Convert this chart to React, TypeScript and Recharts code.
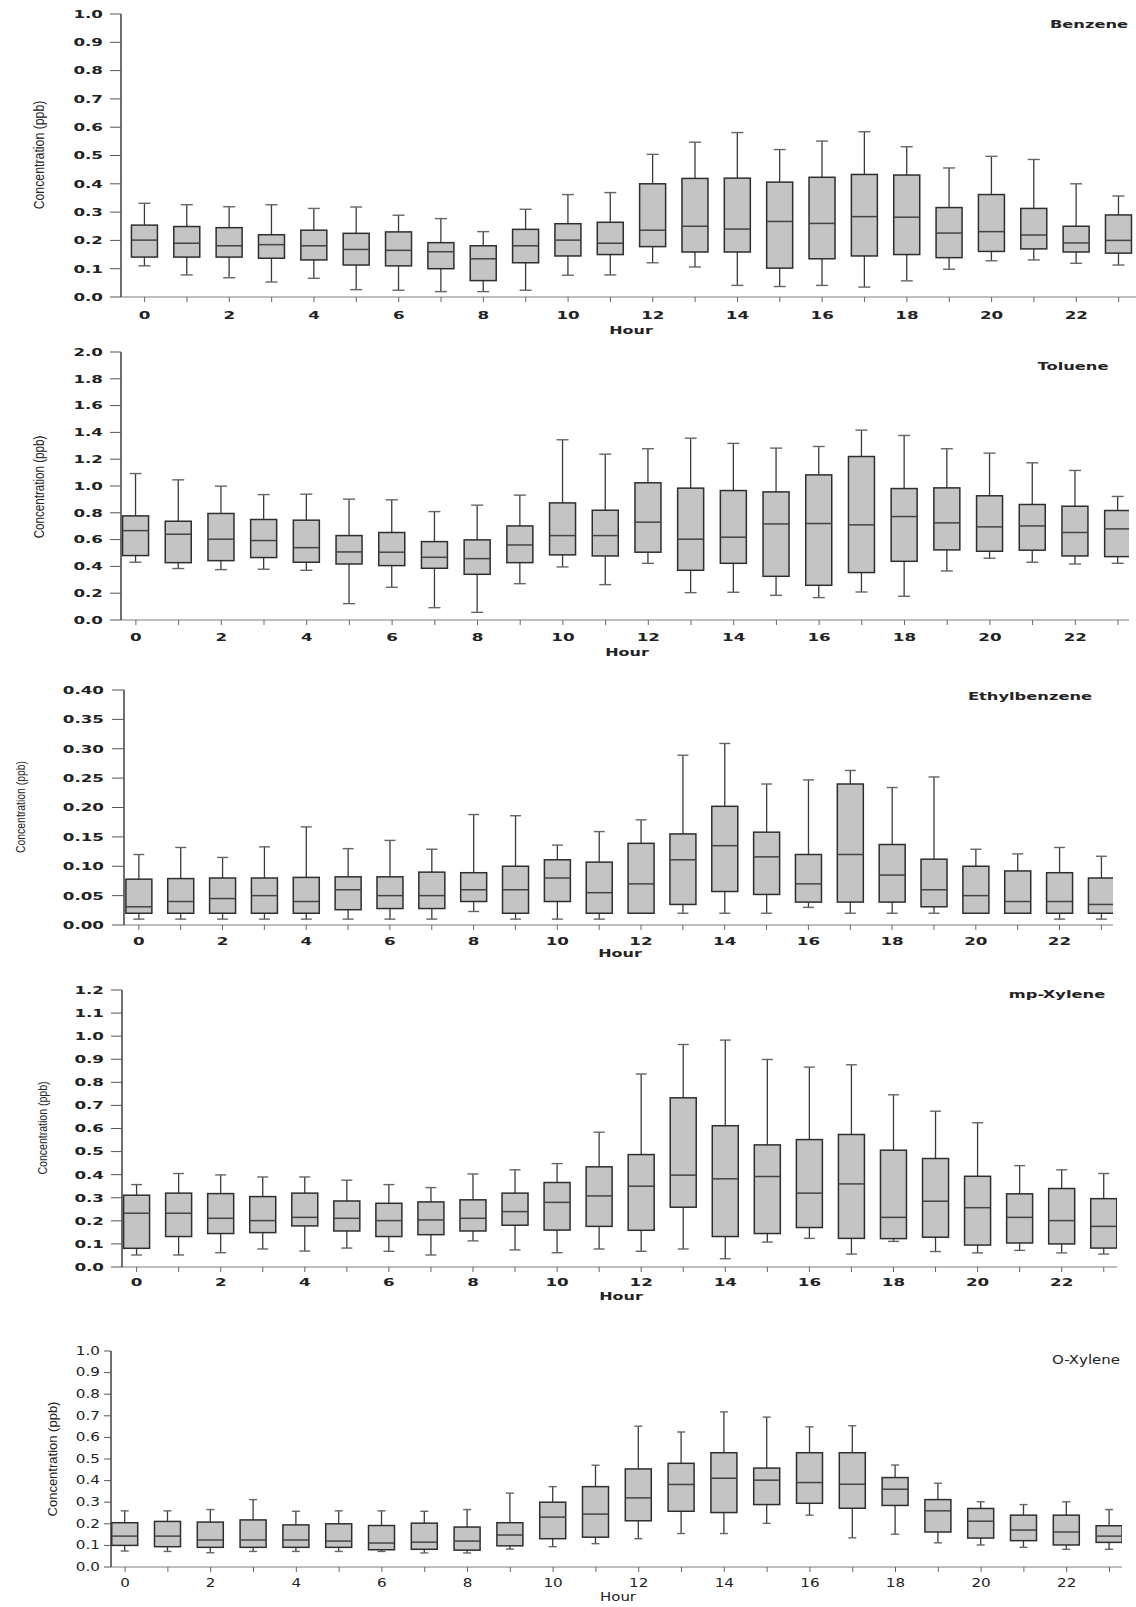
import { ComposedChart, Bar, XAxis, YAxis } from 'recharts'

// hours of the day (x categories)
const HOURS = [0, 1, 2, 3, 4, 5, 6, 7, 8, 9, 10, 11, 12, 13, 14, 15, 16, 17, 18, 19, 20, 21, 22, 23]

// Benzene
const BENZENE_HI = [0.331, 0.326, 0.319, 0.326, 0.313, 0.318, 0.289, 0.277, 0.231, 0.310, 0.362, 0.369, 0.504, 0.547, 0.581, 0.521, 0.551, 0.584, 0.531, 0.456, 0.497, 0.486, 0.400, 0.357]
const BENZENE_Q3 = [0.254, 0.249, 0.245, 0.220, 0.236, 0.225, 0.230, 0.192, 0.181, 0.239, 0.259, 0.264, 0.400, 0.419, 0.420, 0.406, 0.423, 0.433, 0.431, 0.316, 0.362, 0.313, 0.250, 0.290]
const BENZENE_MED = [0.201, 0.190, 0.181, 0.185, 0.181, 0.168, 0.165, 0.160, 0.135, 0.181, 0.201, 0.190, 0.236, 0.250, 0.240, 0.267, 0.260, 0.284, 0.282, 0.226, 0.231, 0.219, 0.191, 0.200]
const BENZENE_Q1 = [0.141, 0.141, 0.141, 0.137, 0.131, 0.113, 0.110, 0.100, 0.058, 0.121, 0.145, 0.150, 0.178, 0.159, 0.159, 0.102, 0.135, 0.145, 0.150, 0.139, 0.161, 0.170, 0.159, 0.155]
const BENZENE_LO = [0.110, 0.078, 0.068, 0.053, 0.066, 0.026, 0.024, 0.019, 0.019, 0.024, 0.077, 0.078, 0.121, 0.106, 0.041, 0.037, 0.041, 0.035, 0.057, 0.098, 0.128, 0.131, 0.119, 0.113]
const BENZENE_TICKS = [0, 0.1, 0.2, 0.3, 0.4, 0.5, 0.6, 0.7, 0.8, 0.9, 1.0]

// Toluene
const TOLUENE_HI = [1.093, 1.046, 0.999, 0.936, 0.939, 0.902, 0.897, 0.809, 0.857, 0.932, 1.345, 1.238, 1.278, 1.357, 1.318, 1.283, 1.295, 1.417, 1.377, 1.278, 1.245, 1.173, 1.116, 0.922]
const TOLUENE_Q3 = [0.777, 0.737, 0.795, 0.750, 0.745, 0.630, 0.653, 0.585, 0.598, 0.702, 0.874, 0.819, 1.024, 0.984, 0.966, 0.956, 1.083, 1.220, 0.981, 0.986, 0.927, 0.862, 0.849, 0.817]
const TOLUENE_MED = [0.667, 0.640, 0.603, 0.593, 0.540, 0.508, 0.506, 0.468, 0.458, 0.560, 0.630, 0.630, 0.730, 0.603, 0.618, 0.717, 0.720, 0.710, 0.772, 0.725, 0.695, 0.702, 0.653, 0.680]
const TOLUENE_Q1 = [0.481, 0.428, 0.443, 0.466, 0.431, 0.418, 0.406, 0.386, 0.341, 0.428, 0.486, 0.478, 0.506, 0.371, 0.423, 0.326, 0.259, 0.354, 0.438, 0.523, 0.513, 0.521, 0.478, 0.473]
const TOLUENE_LO = [0.431, 0.384, 0.376, 0.379, 0.371, 0.122, 0.244, 0.092, 0.057, 0.271, 0.396, 0.264, 0.423, 0.204, 0.207, 0.184, 0.167, 0.209, 0.177, 0.366, 0.461, 0.431, 0.418, 0.423]
const TOLUENE_TICKS = [0, 0.2, 0.4, 0.6, 0.8, 1.0, 1.2, 1.4, 1.6, 1.8, 2.0]

// Ethylbenzene
const ETHYL_HI = [0.120, 0.132, 0.115, 0.133, 0.167, 0.130, 0.144, 0.129, 0.188, 0.186, 0.136, 0.159, 0.179, 0.289, 0.309, 0.240, 0.247, 0.263, 0.234, 0.252, 0.129, 0.121, 0.132, 0.117]
const ETHYL_Q3 = [0.078, 0.079, 0.080, 0.080, 0.081, 0.082, 0.082, 0.090, 0.089, 0.100, 0.111, 0.107, 0.139, 0.155, 0.202, 0.158, 0.120, 0.240, 0.137, 0.112, 0.100, 0.092, 0.089, 0.080]
const ETHYL_MED = [0.031, 0.040, 0.045, 0.050, 0.040, 0.060, 0.050, 0.050, 0.060, 0.060, 0.080, 0.055, 0.070, 0.111, 0.135, 0.116, 0.070, 0.120, 0.085, 0.060, 0.050, 0.040, 0.040, 0.035]
const ETHYL_Q1 = [0.020, 0.020, 0.020, 0.020, 0.020, 0.026, 0.028, 0.028, 0.040, 0.020, 0.040, 0.020, 0.020, 0.035, 0.057, 0.052, 0.039, 0.039, 0.039, 0.031, 0.020, 0.020, 0.020, 0.020]
const ETHYL_LO = [0.010, 0.010, 0.010, 0.010, 0.010, 0.010, 0.010, 0.010, 0.023, 0.010, 0.010, 0.010, 0.020, 0.020, 0.020, 0.020, 0.030, 0.020, 0.020, 0.020, 0.020, 0.020, 0.010, 0.010]
const ETHYL_TICKS = [0, 0.05, 0.1, 0.15, 0.2, 0.25, 0.3, 0.35, 0.4]

// mp-Xylene
const MPX_HI = [0.357, 0.405, 0.399, 0.390, 0.390, 0.376, 0.357, 0.344, 0.403, 0.421, 0.448, 0.584, 0.836, 0.964, 0.983, 0.899, 0.866, 0.876, 0.746, 0.675, 0.625, 0.439, 0.421, 0.405]
const MPX_Q3 = [0.311, 0.320, 0.318, 0.305, 0.320, 0.286, 0.276, 0.282, 0.291, 0.320, 0.366, 0.434, 0.487, 0.733, 0.612, 0.529, 0.552, 0.574, 0.506, 0.470, 0.393, 0.317, 0.340, 0.296]
const MPX_MED = [0.233, 0.233, 0.211, 0.201, 0.215, 0.211, 0.201, 0.204, 0.211, 0.240, 0.280, 0.308, 0.350, 0.398, 0.382, 0.392, 0.320, 0.360, 0.215, 0.285, 0.257, 0.215, 0.201, 0.176]
const MPX_Q1 = [0.081, 0.132, 0.145, 0.149, 0.178, 0.156, 0.132, 0.140, 0.156, 0.181, 0.160, 0.176, 0.159, 0.259, 0.132, 0.145, 0.171, 0.124, 0.123, 0.129, 0.095, 0.104, 0.100, 0.082]
const MPX_LO = [0.052, 0.052, 0.062, 0.078, 0.069, 0.082, 0.068, 0.052, 0.113, 0.074, 0.062, 0.078, 0.068, 0.078, 0.036, 0.108, 0.124, 0.056, 0.111, 0.067, 0.061, 0.072, 0.061, 0.056]
const MPX_TICKS = [0, 0.1, 0.2, 0.3, 0.4, 0.5, 0.6, 0.7, 0.8, 0.9, 1.0, 1.1, 1.2]

// O-Xylene
const OX_HI = [0.260, 0.260, 0.266, 0.312, 0.258, 0.260, 0.260, 0.258, 0.266, 0.342, 0.372, 0.471, 0.652, 0.625, 0.718, 0.694, 0.649, 0.654, 0.472, 0.388, 0.302, 0.289, 0.302, 0.266]
const OX_Q3 = [0.205, 0.211, 0.208, 0.218, 0.195, 0.200, 0.192, 0.203, 0.185, 0.205, 0.300, 0.372, 0.454, 0.480, 0.529, 0.458, 0.529, 0.529, 0.414, 0.312, 0.271, 0.240, 0.240, 0.191]
const OX_MED = [0.143, 0.143, 0.125, 0.125, 0.125, 0.120, 0.111, 0.115, 0.120, 0.148, 0.231, 0.245, 0.320, 0.382, 0.411, 0.402, 0.391, 0.383, 0.360, 0.260, 0.212, 0.171, 0.162, 0.143]
const OX_Q1 = [0.100, 0.094, 0.091, 0.091, 0.091, 0.091, 0.080, 0.082, 0.078, 0.098, 0.131, 0.138, 0.214, 0.258, 0.252, 0.289, 0.295, 0.272, 0.285, 0.162, 0.134, 0.122, 0.102, 0.114]
const OX_LO = [0.074, 0.072, 0.066, 0.072, 0.072, 0.072, 0.072, 0.065, 0.065, 0.083, 0.094, 0.108, 0.131, 0.155, 0.155, 0.202, 0.240, 0.135, 0.152, 0.112, 0.102, 0.091, 0.082, 0.082]
const OX_TICKS = [0, 0.1, 0.2, 0.3, 0.4, 0.5, 0.6, 0.7, 0.8, 0.9, 1.0]

const W = 1136
const FONT = '"DejaVu Sans", sans-serif'

interface Panel {
  name: string
  hi: number[]; q3: number[]; med: number[]; q1: number[]; lo: number[]
  ticks: number[]; dec: number
  // layout
  plotTop: number; plotBottom: number; axisX: number; right: number; h0: number; sp: number
  yTickSize: number; yGap: number; xLabelOff: number; cap: number
  bold: boolean; sx: number
  title: [number, number]; hour: [number, number]
  ylab: [number, number, number, number] // cx, cy, font size, squeeze
}

const panels: Panel[] = [
  {
    name: 'Benzene', hi: BENZENE_HI, q3: BENZENE_Q3, med: BENZENE_MED, q1: BENZENE_Q1, lo: BENZENE_LO,
    ticks: BENZENE_TICKS, dec: 1,
    plotTop: 14, plotBottom: 297, axisX: 121, right: 1136, h0: 144.6, sp: 42.35,
    yTickSize: 11, yGap: 18, xLabelOff: 18, cap: 12, bold: true, sx: 1.52,
    title: [1089, 24], hour: [631, 330], ylab: [38, 155, 15, 0.82],
  },
  {
    name: 'Toluene', hi: TOLUENE_HI, q3: TOLUENE_Q3, med: TOLUENE_MED, q1: TOLUENE_Q1, lo: TOLUENE_LO,
    ticks: TOLUENE_TICKS, dec: 1,
    plotTop: 352, plotBottom: 620, axisX: 121, right: 1129, h0: 135.9, sp: 42.7,
    yTickSize: 11, yGap: 18, xLabelOff: 17, cap: 12, bold: true, sx: 1.52,
    title: [1073, 366], hour: [627, 652], ylab: [39, 487, 14.5, 0.8],
  },
  {
    name: 'Ethylbenzene', hi: ETHYL_HI, q3: ETHYL_Q3, med: ETHYL_MED, q1: ETHYL_Q1, lo: ETHYL_LO,
    ticks: ETHYL_TICKS, dec: 2,
    plotTop: 690, plotBottom: 925, axisX: 124, right: 1113, h0: 138.8, sp: 41.85,
    yTickSize: 12, yGap: 20, xLabelOff: 16, cap: 11, bold: true, sx: 1.52,
    title: [1030, 696], hour: [620, 953], ylab: [20, 807, 13, 0.8],
  },
  {
    name: 'mp-Xylene', hi: MPX_HI, q3: MPX_Q3, med: MPX_MED, q1: MPX_Q1, lo: MPX_LO,
    ticks: MPX_TICKS, dec: 1,
    plotTop: 990, plotBottom: 1267, axisX: 122, right: 1117, h0: 136.6, sp: 42.05,
    yTickSize: 11, yGap: 18, xLabelOff: 15, cap: 11, bold: true, sx: 1.52,
    title: [1057, 994], hour: [621, 1296], ylab: [43, 1128, 13.5, 0.78],
  },
  {
    name: 'O-Xylene', hi: OX_HI, q3: OX_Q3, med: OX_MED, q1: OX_Q1, lo: OX_LO,
    ticks: OX_TICKS, dec: 1,
    plotTop: 1351, plotBottom: 1567, axisX: 111, right: 1122, h0: 125.1, sp: 42.8,
    yTickSize: 7, yGap: 11, xLabelOff: 16, cap: 8, bold: false, sx: 1.32,
    title: [1086, 1361], hour: [618, 1598], ylab: [52, 1459, 13, 1],
  },
]

function BoxShape(props: any) {
  const { x, y, width, height, payload } = props
  if (!payload || !isFinite(y) || !isFinite(height)) return <g />
  const { lo, q1, med, q3, hi, cap } = payload
  const top = Math.min(y, y + height)
  const bot = Math.max(y, y + height)
  // linear map through the bar's own scaled extent (lo..hi)
  const py = (v: number) => (hi === lo ? bot : bot - ((v - lo) / (hi - lo)) * (bot - top))
  const cx = x + width / 2
  return (
    <g>
      <line x1={cx} x2={cx} y1={py(hi)} y2={py(q3)} stroke="#3a3a3a" strokeWidth={1.3} />
      <line x1={cx} x2={cx} y1={py(q1)} y2={py(lo)} stroke="#3a3a3a" strokeWidth={1.3} />
      <line x1={cx - cap / 2} x2={cx + cap / 2} y1={py(hi)} y2={py(hi)} stroke="#666" strokeWidth={1.4} />
      <line x1={cx - cap / 2} x2={cx + cap / 2} y1={py(lo)} y2={py(lo)} stroke="#666" strokeWidth={1.4} />
      <rect x={x} y={py(q3)} width={width} height={Math.max(0, py(q1) - py(q3))} fill="#c4c4c4" stroke="#2e2e2e" strokeWidth={1.5} />
      <line x1={x} x2={x + width} y1={py(med)} y2={py(med)} stroke="#444" strokeWidth={1.5} />
    </g>
  )
}

function BoxPanel({ p }: { p: Panel }) {
  const data = HOURS.map((h, i) => ({
    hour: h, lo: p.lo[i], q1: p.q1[i], med: p.med[i], q3: p.q3[i], hi: p.hi[i], cap: p.cap,
  }))
  const chartTop = p.plotTop - 14
  const axisH = 40
  const chartH = p.plotBottom - chartTop + axisH
  const xMin = -(p.h0 - p.axisX) / p.sp
  const xMax = (p.right - p.h0) / p.sp
  const weight = p.bold ? 'bold' : 'normal'

  const YTick = (t: any) => (
    <text transform={`translate(${t.x},${t.y}) scale(${p.sx},1)`} textAnchor="end" dominantBaseline="central"
      fontFamily={FONT} fontSize={p.bold ? 11 : 11.5} fontWeight={weight} fill="#222">
      {Number(t.payload.value).toFixed(p.dec)}
    </text>
  )
  const XTick = (t: any) => t.payload.value % 2 !== 0 ? <g /> : (
    <text transform={`translate(${t.x},${t.y}) scale(${p.sx},1)`} textAnchor="middle" dominantBaseline="central"
      fontFamily={FONT} fontSize={p.bold ? 11 : 11.5} fontWeight={weight} fill="#222">
      {t.payload.value}
    </text>
  )

  return (
    <div style={{ position: 'absolute', left: 0, top: chartTop }}>
      <ComposedChart width={W} height={chartH} data={data}
        margin={{ top: 14, right: W - p.right, bottom: 0, left: 0 }}>
        <XAxis dataKey="hour" type="number" domain={[xMin, xMax]} allowDataOverflow ticks={HOURS} interval={0}
          height={axisH} tickSize={5} tickMargin={p.xLabelOff - 5} tick={XTick}
          axisLine={{ stroke: '#a8a8a8', strokeWidth: 1.6 }} tickLine={{ stroke: '#666' }} />
        <YAxis type="number" domain={[0, p.ticks[p.ticks.length - 1]]} ticks={p.ticks} interval={0}
          width={p.axisX} tickSize={p.yTickSize} tickMargin={p.yGap - p.yTickSize} tick={YTick}
          axisLine={{ stroke: '#333', strokeWidth: 1.4 }} tickLine={{ stroke: '#555' }} />
        <Bar dataKey={(d: any) => [d.lo, d.hi]} barSize={26} isAnimationActive={false} shape={BoxShape} />
      </ComposedChart>
    </div>
  )
}

function Txt({ x, y, text, size, weight, sx, rotate, family }: any) {
  const t = rotate
    ? `translate(-50%,-50%) rotate(-90deg) scaleX(${sx})`
    : `translate(-50%,-50%) scaleX(${sx})`
  return (
    <div style={{
      position: 'absolute', left: x, top: y, transform: t, whiteSpace: 'nowrap',
      fontFamily: family ?? FONT, fontSize: size, fontWeight: weight, lineHeight: 1, color: '#222',
    }}>{text}</div>
  )
}

export default function App() {
  return (
    <div style={{ position: 'relative', width: W, height: 1607, background: '#fff', overflow: 'hidden' }}>
      <style>{'body{margin:0}'}</style>
      {panels.map(p => <BoxPanel key={p.name} p={p} />)}
      {panels.map(p => (
        <div key={p.name + '-t'}>
          <Txt x={p.title[0]} y={p.title[1]} text={p.name} size={p.bold ? 11 : 11.5}
            weight={p.bold ? 'bold' : 'normal'} sx={p.bold ? 1.48 : 1.3} />
          <Txt x={p.hour[0]} y={p.hour[1]} text="Hour" size={p.bold ? 11 : 11.5}
            weight={p.bold ? 'bold' : 'normal'} sx={p.bold ? 1.45 : 1.3} />
          <Txt x={p.ylab[0]} y={p.ylab[1]} text="Concentration (ppb)" size={p.ylab[2]}
            weight="normal" sx={p.ylab[3]} rotate family='"Liberation Sans", Arial, sans-serif' />
        </div>
      ))}
    </div>
  )
}
